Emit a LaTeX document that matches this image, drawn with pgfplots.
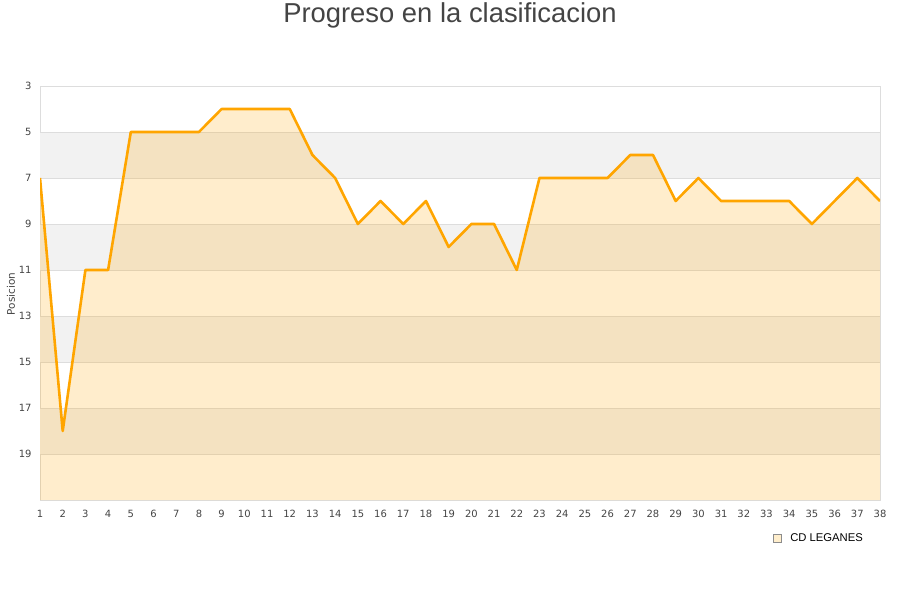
\documentclass[border=0pt]{standalone}
\usepackage{fontspec}
\setmainfont{DejaVu Sans}
\newfontfamily\arialfont{Liberation Sans}
\usepackage{pgfplots}
\pgfplotsset{compat=1.18}
\definecolor{lineor}{HTML}{FFA500}
\definecolor{bandgray}{HTML}{F2F2F2}
\definecolor{gridc}{HTML}{DDDDDD}
\definecolor{txt}{HTML}{444444}
\definecolor{legfill}{HTML}{FFEECC}
\begin{document}
\begin{tikzpicture}
\path[use as bounding box] (0bp,0bp) rectangle (900bp,600bp);
\node[font=\arialfont\fontsize{27.5}{32}\selectfont, text=txt] at (450bp,585bp) {Progreso en la clasificacion};
\node[rotate=90, font=\fontsize{10.5}{12}\selectfont, text=txt] at (11bp,306bp) {Posicion};
\begin{axis}[
  at={(40bp,100bp)}, anchor=south west,
  scale only axis, width=840bp, height=414bp,
  xmin=1, xmax=38, ymin=3, ymax=21,
  y dir=reverse,
  xtick={1,...,38}, ytick={3,5,...,19},
  major tick length=0pt,
  /pgf/number format/assume math mode=true,
  axis line style={draw=gridc, line width=0.8bp},
  tick label style={font=\fontsize{10}{12}\selectfont, text=txt},
  xticklabel style={yshift=-7bp},
  yticklabel style={xshift=-5bp},
  legend style={at={(0.872,-0.092)}, anchor=west, draw=none, fill=none,
    font=\arialfont\fontsize{11.3}{13}\selectfont, inner sep=0pt,
    nodes={inner sep=3bp}},
  legend cell align=left,
]
\addplot[draw=none, fill=bandgray, forget plot] coordinates {(1,5) (38,5) (38,7) (1,7)} -- cycle;
\addplot[draw=none, fill=bandgray, forget plot] coordinates {(1,9) (38,9) (38,11) (1,11)} -- cycle;
\addplot[draw=none, fill=bandgray, forget plot] coordinates {(1,13) (38,13) (38,15) (1,15)} -- cycle;
\addplot[draw=none, fill=bandgray, forget plot] coordinates {(1,17) (38,17) (38,19) (1,19)} -- cycle;
\pgfplotsinvokeforeach{5,7,9,11,13,15,17,19}{
  \addplot[draw=gridc, line width=0.8bp, forget plot] coordinates {(1,#1) (38,#1)};
}
\addplot[fill=lineor, fill opacity=0.2, draw=none, forget plot] coordinates {
(1,21) (1,7) (2,18) (3,11) (4,11) (5,5) (6,5) (7,5) (8,5) (9,4) (10,4)
(11,4) (12,4) (13,6) (14,7) (15,9) (16,8) (17,9) (18,8) (19,10) (20,9)
(21,9) (22,11) (23,7) (24,7) (25,7) (26,7) (27,6) (28,6) (29,8) (30,7)
(31,8) (32,8) (33,8) (34,8) (35,9) (36,8) (37,7) (38,8) (38,21)} -- cycle;
\addplot[draw=lineor, line width=2.6bp, line join=round, forget plot] coordinates {
(1,7) (2,18) (3,11) (4,11) (5,5) (6,5) (7,5) (8,5) (9,4) (10,4)
(11,4) (12,4) (13,6) (14,7) (15,9) (16,8) (17,9) (18,8) (19,10) (20,9)
(21,9) (22,11) (23,7) (24,7) (25,7) (26,7) (27,6) (28,6) (29,8) (30,7)
(31,8) (32,8) (33,8) (34,8) (35,9) (36,8) (37,7) (38,8)};
\addlegendimage{legend image code/.code={\draw[draw=black!45, fill=legfill, line width=0.6bp] (0bp,-4bp) rectangle (8bp,4bp);}}
\addlegendentry{\hspace{6bp}CD LEGANES}
\end{axis}
\end{tikzpicture}
\end{document}
